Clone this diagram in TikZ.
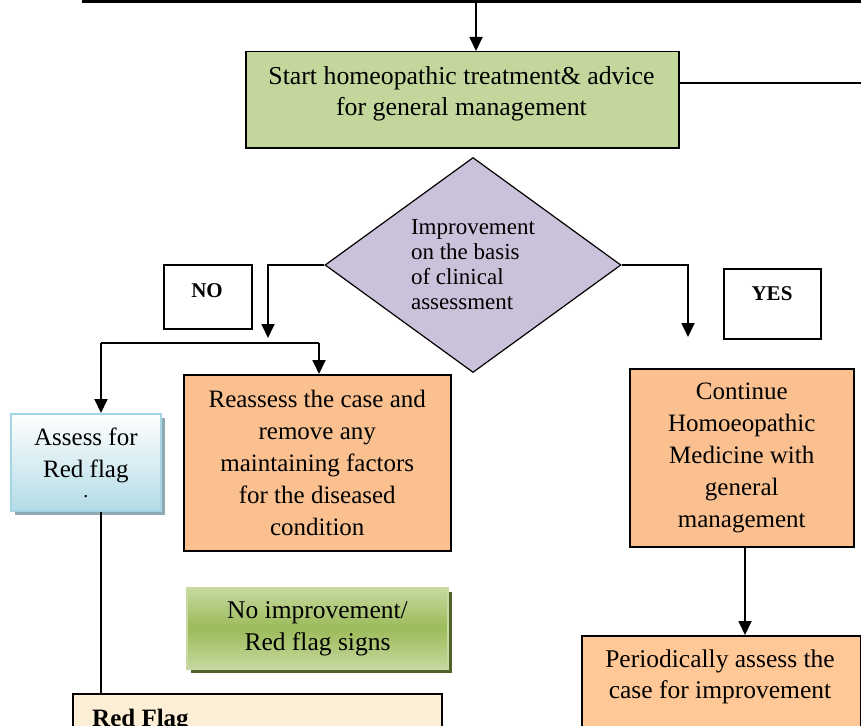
\documentclass[tikz,border=0pt]{standalone}
\usepackage{fontspec}
\setmainfont{Liberation Serif}
\usetikzlibrary{arrows.meta,shapes.geometric,shadows}
\definecolor{topgreen}{HTML}{C3D69B}
\definecolor{diafill}{HTML}{CCC1DA}
\definecolor{orangefill}{HTML}{FAC090}
\definecolor{peachfill}{HTML}{FFC896}
\definecolor{greenmid}{HTML}{9BBB59}
\definecolor{greenlight}{HTML}{C6D9A0}
\definecolor{greenshadow}{HTML}{4F6228}
\definecolor{blueedge}{HTML}{A5D5E2}
\definecolor{bluefill}{HTML}{B3DBE6}
\definecolor{blueshadow}{HTML}{8FAAB2}
\definecolor{cream}{HTML}{FCEFD6}
\tikzset{
  box/.style={draw=black, line width=1.5pt, anchor=north west, align=center, inner sep=0pt,
    font=\fontsize{25}{32}\selectfont},
  conn/.style={line width=1.8pt},
  arr/.style={line width=1.8pt, -{Triangle[width=13pt,length=14pt]}},
  labelbox/.style={draw=black, line width=1.5pt, anchor=north west, inner sep=0pt},
  boldlbl/.style={font=\bfseries\fontsize{21}{25}\selectfont},
}
\begin{document}
\begin{tikzpicture}[x=1pt,y=-1pt]
\useasboundingbox (0,0) rectangle (861,725);
\clip (0,0) rectangle (861,725);
% top line
\coordinate (tl) at (82,2);
\coordinate (tr) at (861,2);
\coordinate (tm) at (476,2);
\draw[line width=3pt] (tl) -- (tr);
% top box
\node[box, fill=topgreen, minimum width=433pt, minimum height=96pt] (start) at (245,51) {};
\node[align=center, inner sep=0pt, font=\fontsize{25.8}{31}\selectfont] (starttxt) at (461.5,94)
  {Start homeopathic treatment\& advice\\for general management};
\draw[arr] (tm) -- (tm |- start.north);
\coordinate (sr) at (861,83);
\draw[conn] (start.east |- sr) -- (sr);
% diamond
\node[diamond, draw=black, line width=1.2pt, fill=diafill, minimum width=296pt, minimum height=215pt,
  inner sep=0pt, align=left, font=\fontsize{23}{25}\selectfont] (dia) at (473,265)
  {Improvement\\on the basis\\of clinical\\assessment};
% NO branch
\coordinate (notip) at (268,338);
\draw[arr] (dia.west) -| (notip);
\node[labelbox, minimum width=88pt, minimum height=64pt] (no) at (163,264) {};
\node[boldlbl] (nolbl) at (207,291) {NO};
\coordinate (bl) at (101,343);
\coordinate (br) at (319,343);
\draw[conn] (bl) -- (br);
% reassess
\node[box, fill=orangefill, minimum width=267pt, minimum height=176pt] (reassess) at (183,374)
  {Reassess the case and\\remove any\\maintaining factors\\for the diseased\\condition};
\draw[arr] (br) -- (br |- reassess.north);
% assess for red flag
\node[box, draw=blueedge, line width=1.8pt, top color=white, bottom color=bluefill,
  drop shadow={shadow xshift=4pt, shadow yshift=-4pt, fill=blueshadow, opacity=1},
  minimum width=150pt, minimum height=97pt] (assess) at (10,413)
  {Assess for\\Red flag\\[-12pt]\fontsize{20}{20}\selectfont.};
\draw[arr] (bl) -- (bl |- assess.north);
% red flag box
\node[draw=black, line width=1.5pt, fill=cream, anchor=north west, minimum width=369pt,
  minimum height=80pt] (redflag) at (72,693) {};
\node[anchor=north west, inner sep=0pt, font=\bfseries\fontsize{25}{30}\selectfont] (rftxt) at (92,709) {Red Flag};
\draw[line width=1.5pt] (assess.south -| bl) -- (bl |- redflag.north);
% green box
\node[box, draw=greenlight, line width=2pt, top color=greenlight, bottom color=greenlight, middle color=greenmid,
  drop shadow={shadow xshift=4pt, shadow yshift=-4pt, fill=greenshadow, opacity=1},
  minimum width=261pt, minimum height=81pt, font=\fontsize{25.5}{32}\selectfont] (noimp) at (186,587)
  {No improvement/\\Red flag signs};
% YES branch
\coordinate (yestip) at (688,337);
\draw[arr] (dia.east) -| (yestip);
\node[labelbox, minimum width=97pt, minimum height=70pt] (yes) at (723,268) {};
\node[boldlbl] (yeslbl) at (772,294) {YES};
% continue
\node[box, fill=orangefill, minimum width=224pt, minimum height=178pt] (cont) at (629,368)
  {Continue\\Homoeopathic\\Medicine with\\general\\management};
% periodically
\node[box, fill=peachfill, minimum width=279pt, minimum height=100pt] (period) at (581,635) {};
\node[align=center, font=\fontsize{25.5}{31.5}\selectfont] (periodtxt) at (720,677)
  {Periodically assess the\\case for improvement};
\coordinate (cx) at (745,0);
\draw[arr] (cont.south -| cx) -- (cx |- period.north);
\end{tikzpicture}
\end{document}
